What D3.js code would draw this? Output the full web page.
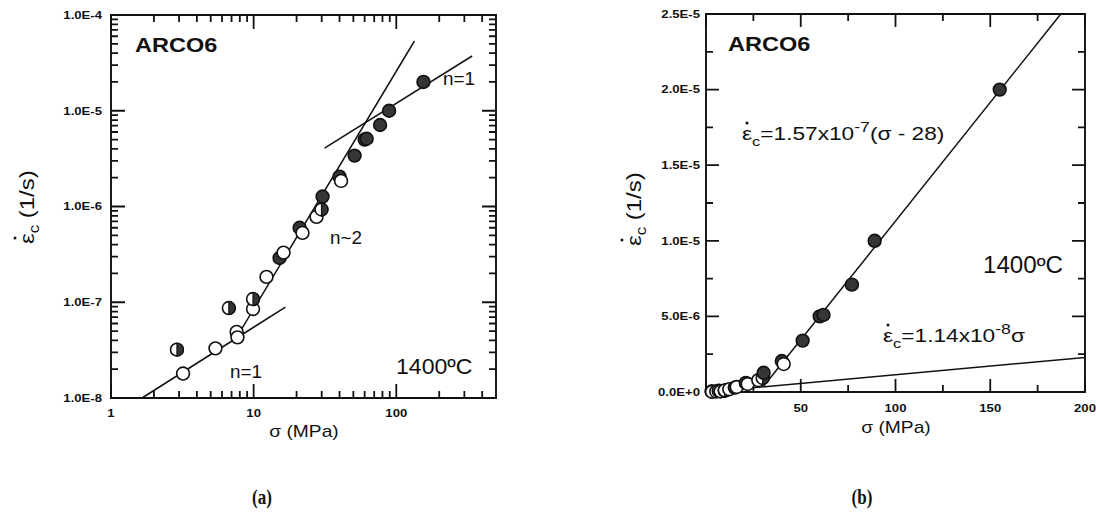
<!DOCTYPE html>
<html>
<head>
<meta charset="utf-8">
<script src="https://cdn.jsdelivr.net/npm/d3@7"></script>
<style>
  body { margin: 0; background: #fff; }
  svg { display: block; }
  text { font-family: "Liberation Sans", Arial, Helvetica, sans-serif; fill: #111; }
</style>
</head>
<body>
<svg id="fig" width="1096" height="531"></svg>
<script>
// Creep tests on ARCO6 at 1400 °C: applied stress (MPa) and steady strain rate (1/s)
const stress     = [2.9, 3.2, 5.4, 6.7, 7.6, 7.7, 9.9, 9.9, 12.3, 15.2, 16.2, 21, 22, 27.6, 29.9, 30.4, 40, 41, 51, 60, 62, 77, 89, 155];
const strainRate = [3.2e-8, 1.8e-8, 3.3e-8, 8.7e-8, 4.9e-8, 4.3e-8, 8.5e-8, 1.08e-7, 1.84e-7, 2.9e-7, 3.3e-7, 6.0e-7, 5.3e-7, 7.8e-7, 9.3e-7, 1.27e-6, 2.05e-6, 1.85e-6, 3.4e-6, 5.0e-6, 5.1e-6, 7.1e-6, 1.0e-5, 2.0e-5];
const markerType = ["half", "open", "open", "half", "open", "open", "open", "half", "open", "filled", "open", "filled", "open", "open", "half", "filled", "filled", "open", "filled", "filled", "filled", "filled", "filled", "filled"];

// Power-law guide lines on the log-log panel: [stress, rate] end points
const guideN1Low  = [[1.65, 1.0e-8], [16.7, 8.9e-8]];
const guideN2     = [[7.6, 4.3e-8], [134, 5.35e-5]];
const guideN1High = [[31.4, 4.08e-6], [340, 3.73e-5]];

// Linear fits on the linear panel
const fitLowSlope = 1.14e-8;                      // rate = 1.14e-8 * sigma
const fitHighSlope = 1.57e-7, fitThreshold = 28;  // rate = 1.57e-7 * (sigma - 28)

// Axis ticks and labels
const logXTicks  = [1, 10, 100];
const logXLabels = ["1", "10", "100"];
const logYTicks  = [1e-8, 1e-7, 1e-6, 1e-5, 1e-4];
const logYLabels = ["1.0E-8", "1.0E-7", "1.0E-6", "1.0E-5", "1.0E-4"];
const linXMajor  = [0, 50, 100, 150, 200];
const linXLabels = ["50", "100", "150", "200"];
const linXMinor  = [25, 75, 125, 175];
const linYMajor  = [0, 5e-6, 1e-5, 1.5e-5, 2e-5, 2.5e-5];
const linYLabels = ["0.0E+0", "5.0E-6", "1.0E-5", "1.5E-5", "2.0E-5", "2.5E-5"];
const linYMinor  = [2.5e-6, 7.5e-6, 1.25e-5, 1.75e-5, 2.25e-5];

const svg = d3.select("#fig");
const SX = 1.25;   // the sans lettering is drawn slightly extended

// text placed at (x, y), stretched horizontally about its anchor
function label(g, x, y, str, opt = {}) {
  const t = g.append("text")
    .attr("transform", `translate(${x},${y}) scale(${opt.sx || SX},1)`)
    .attr("text-anchor", opt.anchor || "start")
    .style("font-size", (opt.size || 11) + "px")
    .style("font-weight", opt.weight || "normal")
    .text(str);
  if (opt.family) t.style("font-family", opt.family);
  return t;
}

// ---------- scales ----------
const xa = d3.scaleLog().domain([1, 500]).range([111, 496]);
const ya = d3.scaleLog().domain([1e-8, 1e-4]).range([398, 15]);
const xb = d3.scaleLinear().domain([0, 200]).range([706, 1085]);
const yb = d3.scaleLinear().domain([0, 2.5e-5]).range([392, 14]);

function logMinor(lo, hi) {
  const out = [];
  for (let d = lo; d < hi; d *= 10)
    for (let k = 2; k <= 9; k++) if (d * k < hi * 0.999) out.push(d * k);
  return out;
}
const logXMinor = logMinor(1, 500);
const logYMinor = logMinor(1e-8, 1e-4);

// inward tick marks on all four sides of a frame, drawn as one path
function frameTicks(g, xs, ys, xVals, yVals, len) {
  const [x0, x1] = xs.range();
  const [y1, y0] = ys.range();
  const p = d3.path();
  xVals.forEach(v => {
    const x = xs(v);
    p.moveTo(x, y1); p.lineTo(x, y1 - len);
    p.moveTo(x, y0); p.lineTo(x, y0 + len);
  });
  yVals.forEach(v => {
    const y = ys(v);
    p.moveTo(x0, y); p.lineTo(x0 + len, y);
    p.moveTo(x1, y); p.lineTo(x1 - len, y);
  });
  g.append("path").attr("d", p.toString())
    .attr("fill", "none").attr("stroke", "#111").attr("stroke-width", 1.8);
}

function frame(g, xs, ys) {
  const [x0, x1] = xs.range();
  const [y1, y0] = ys.range();
  g.append("path").attr("d", `M${x0},${y0}H${x1}V${y1}H${x0}Z`)
    .attr("fill", "none").attr("stroke", "#111").attr("stroke-width", 1.9);
}

// ---------- panel (a): log-log ----------
const ga = svg.append("g");
frameTicks(ga, xa, ya, logXTicks, logYTicks, 14);
frameTicks(ga, xa, ya, logXMinor, logYMinor, 7);
frame(ga, xa, ya);

logXTicks.forEach((v, i) => label(ga, xa(v), 417, logXLabels[i], { anchor: "middle", size: 10.5, weight: "bold" }));
logYTicks.forEach((v, i) => label(ga, 102, ya(v) + 3.8, logYLabels[i], { anchor: "end", size: 10.5, weight: "bold" }));

const lineA = d3.line().x(d => xa(d[0])).y(d => ya(d[1]));
[guideN1Low, guideN2, guideN1High].forEach(seg =>
  ga.append("path").attr("d", lineA(seg)).attr("fill", "none").attr("stroke", "#111").attr("stroke-width", 1.5));

// ---------- panel (b): linear ----------
const gb = svg.append("g");
frameTicks(gb, xb, yb, linXMajor, linYMajor, 13);
frameTicks(gb, xb, yb, linXMinor, linYMinor, 7);
frame(gb, xb, yb);

linXMajor.slice(1).forEach((v, i) => label(gb, xb(v), 412, linXLabels[i], { anchor: "middle", size: 10.5, weight: "bold" }));
linYMajor.forEach((v, i) => label(gb, 700, yb(v) + 3.8, linYLabels[i], { anchor: "end", size: 10.5, weight: "bold" }));

// fitted straight lines
const lineB = d3.line().x(d => xb(d[0])).y(d => yb(d[1]));
const lowFit = [0, 200].map(s => [s, fitLowSlope * s]);
const sCross = fitHighSlope * fitThreshold / (fitHighSlope - fitLowSlope);
const sTop = fitThreshold + yb.domain()[1] / fitHighSlope;
const highFit = [sCross, sTop].map(s => [s, fitHighSlope * (s - fitThreshold)]);
[lowFit, highFit].forEach(seg =>
  gb.append("path").attr("d", lineB(seg)).attr("fill", "none").attr("stroke", "#111").attr("stroke-width", 1.5));

// ---------- data markers ----------
const points = stress.map((s, i) => ({ s, r: strainRate[i], type: markerType[i] }));
const R = 6.4;
function drawMarkers(g, xs, ys) {
  const m = g.append("g").selectAll("g").data(points).join("g")
    .attr("transform", d => `translate(${xs(d.s)},${ys(d.r)})`);
  m.append("circle").attr("r", R)
    .attr("fill", d => d.type === "filled" ? "#353535" : "#fff")
    .attr("stroke", "#111").attr("stroke-width", 1.6);
  m.filter(d => d.type === "half").append("path")
    .attr("d", `M0,${-R} A${R},${R} 0 0 1 0,${R} Z`)
    .attr("fill", "#353535").attr("stroke", "#111").attr("stroke-width", 1.2);
}
drawMarkers(ga, xa, ya);
drawMarkers(gb, xb, yb);

// ---------- annotations ----------
label(ga, 135, 52, "ARCO6", { size: 21, weight: "bold", sx: 1.12 });
label(gb, 728, 51, "ARCO6", { size: 21, weight: "bold", sx: 1.12 });
label(ga, 443, 85, "n=1", { size: 18, sx: 1.05 });
label(ga, 330, 244, "n~2", { size: 18, sx: 1.05 });
label(ga, 230, 378, "n=1", { size: 18, sx: 1.05 });
label(ga, 396, 374, "1400ºC", { size: 22, sx: 1.05 });
label(gb, 983, 273, "1400ºC", { size: 23, sx: 1.05 });

// rate equations with a dotted epsilon
function equation(g, x, y, parts) {
  const t = g.append("text")
    .attr("transform", `translate(${x},${y}) scale(1.26,1)`)
    .style("font-size", "18px");
  t.append("tspan").text("ε");
  t.append("tspan").attr("dy", 6).style("font-size", "13px").text("c");
  t.append("tspan").attr("dy", -6).text(parts[0]);
  t.append("tspan").attr("dy", -8).style("font-size", "14px").text(parts[1]);
  t.append("tspan").attr("dy", 8).text(parts[2]);
  g.append("circle").attr("cx", x + 5).attr("cy", y - 17).attr("r", 1.5).attr("fill", "#111");
}
equation(gb, 742, 140, ["=1.57x10", "-7", "(σ - 28)"]);
equation(gb, 883, 342, ["=1.14x10", "-8", "σ"]);

// axis titles
label(ga, 304, 437, "σ (MPa)", { anchor: "middle", size: 16, sx: 1.2 });
label(gb, 896, 433, "σ (MPa)", { anchor: "middle", size: 16, sx: 1.2 });

function yTitle(g, x, y) {
  const gg = g.append("g").attr("transform", `translate(${x},${y}) rotate(-90)`);
  const t = gg.append("text").attr("transform", "scale(1.2,1)").style("font-size", "20px");
  t.append("tspan").text("ε");
  t.append("tspan").attr("dy", 5).style("font-size", "14px").text("c");
  t.append("tspan").attr("dy", -5).text(" (1/s)");
  gg.append("circle").attr("cx", 6).attr("cy", -19).attr("r", 1.5).attr("fill", "#111");
}
yTitle(ga, 34, 244);
yTitle(gb, 641, 246);

// panel captions
label(svg, 262, 504, "(a)", { anchor: "middle", size: 20, weight: "bold", sx: 0.85, family: "'Liberation Serif', 'Times New Roman', serif" });
label(svg, 862, 504, "(b)", { anchor: "middle", size: 20, weight: "bold", sx: 0.85, family: "'Liberation Serif', 'Times New Roman', serif" });
</script>
</body>
</html>
